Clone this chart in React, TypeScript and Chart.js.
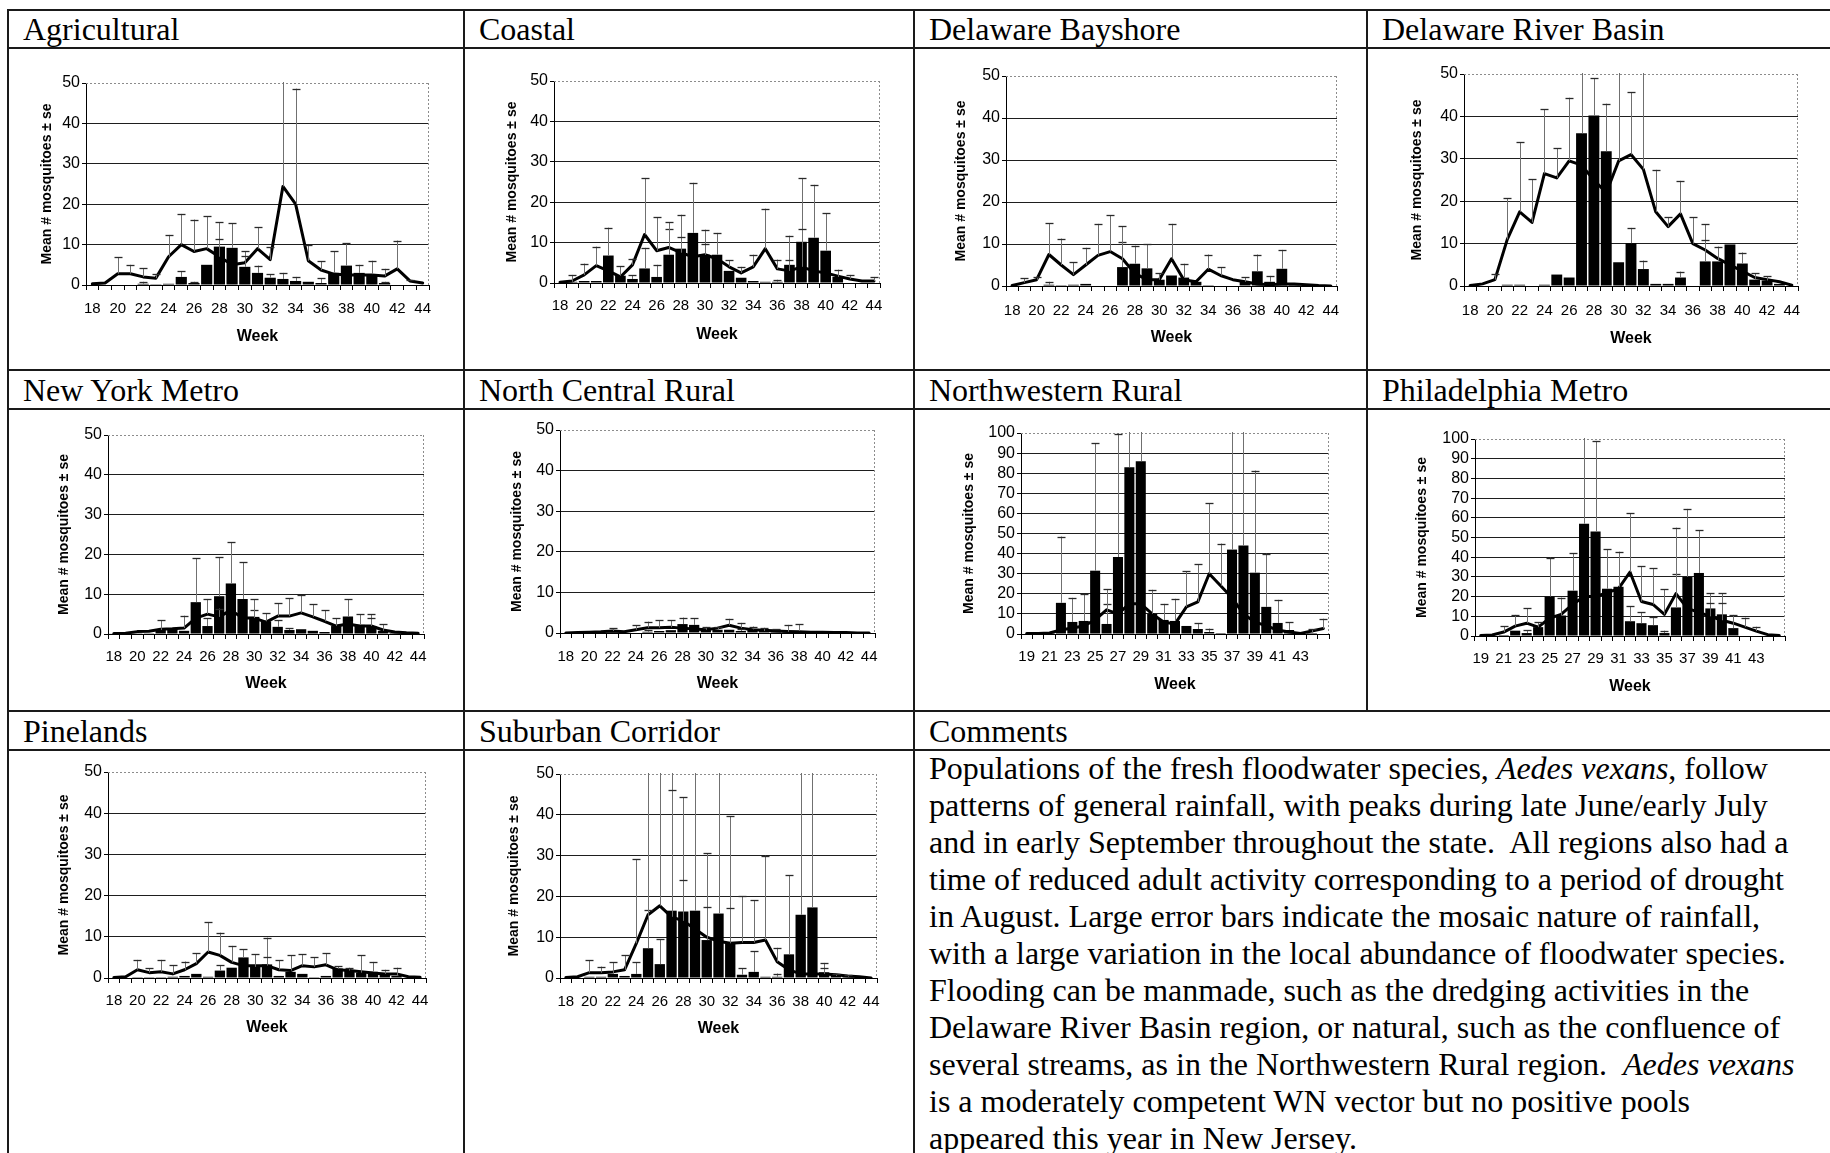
import React, { useEffect, useRef } from "react";
import { Chart, registerables } from "chart.js";

Chart.register(...registerables);
Chart.defaults.color = "#000";

// ---------- categories / tick labels ----------
const weeksA = ["18","19","20","21","22","23","24","25","26","27","28","29","30","31","32","33","34","35","36","37","38","39","40","41","42","43","44"];
const weeksB = ["19","20","21","22","23","24","25","26","27","28","29","30","31","32","33","34","35","36","37","38","39","40","41","42","43","44","45"];
const tickLabelsA = ["18","20","22","24","26","28","30","32","34","36","38","40","42","44"];
const tickLabelsB = ["19","21","23","25","27","29","31","33","35","37","39","41","43"];

// ---------- Agricultural ----------
const agBars = [0,0,0,0,0.3,0.2,0.3,2,0.5,5,9.5,9.2,4.5,3,1.8,1.5,1,0.8,0.5,3,4.8,3,2.7,0.5,0,0,0];
const agBarsSE = [0,0,0,0,0.5,0,0,1.4,0.3,0,6,6.1,3.8,1.8,0.9,1.5,1,0,1.2,5.3,5.5,2,3.3,0.3,0,0,0];
const agLine = [0.3,0.5,2.8,2.8,2,1.7,7,10,8.3,9,7,5,5.5,9,6.3,24.4,20,6,3.7,2.7,2.5,2.5,2.5,2.2,4,1,0.5];
const agLineSE = [0,0,4.1,2.2,2.2,1,5.4,7.6,7.9,8,4.4,0,1.8,5.3,3,30,28.6,3.8,2.2,0,0,0,0,1.8,7,0.3,0];

// ---------- Coastal ----------
const coBars = [0,0.3,0.5,0.5,6.8,1.8,1,3.6,1.5,7,8.5,12.4,7,7,3,1.3,0.5,0.3,0.3,4.5,10.2,11.2,8,1.5,0,0,0];
const coBarsSE = [0,1.7,0,0,6.9,2.3,0.9,5.1,3,6.4,8.4,12.4,6.2,5.4,0,0,0,0,0.5,7.2,15.8,13.1,9.3,1.8,0,0,0];
const coLine = [0.2,0.5,2,4.3,3,1.5,4.5,12,8,8.8,7.5,6.5,7,6,4,2.5,4,8.5,3.5,3,4,3,2.5,1.7,1,0.5,0.5];
const coLineSE = [0,0,2.8,4.7,0,0,1.5,14,8.3,6.3,3.9,0,2.7,0,1.6,1.5,3,9.9,2.3,2.8,9.4,0,0,0,1,0,1];

// ---------- Delaware Bayshore ----------
const dbBars = [0,0,0,0.3,0.2,0.3,0.5,0,0,4.5,5.3,4.2,1.5,2.5,2,1,0.2,0,0,1,3.5,1,4.1,0.7,0,0,0];
const dbBarsSE = [0,0,0,0.7,0,0,0,0,0,5.9,4.3,5.8,1.6,0,3.3,0,0,0,0,1.1,4,1.4,4.5,0,0,0,0];
const dbLine = [0.1,0.8,1.5,7.5,5,2.7,5,7.3,8.2,6.5,3,1.5,1.5,6.5,1.5,1,4,2.5,1.5,1,0.5,0.3,0.5,0.5,0.3,0.1,0];
const dbLineSE = [0,1,0.7,7.5,6.3,3,4.1,7.5,8.6,7.7,0,0,0,8.3,0,0,3.5,2,0,0,0,0,0,0,0,0,0];

// ---------- Delaware River Basin ----------
const drBars = [0,0,0,0.3,0.3,0,0.3,2.7,2,36,40.2,31.8,5.6,10.1,4,0.5,0.5,2,0,5.8,5.8,9.8,5.3,1.5,1.3,0.5,0];
const drBarsSE = [0,0,0,0,0,0,0,0,0,20,8.8,11.2,0,3.6,2,0,0,1.4,0,8.8,3.5,0,2.6,1.5,1,0,0];
const drLine = [0.1,0.5,1.5,11,17.5,15,26.5,25.5,29.5,28.5,25,22,29.5,31,27.5,17.5,14,17,10,8.5,6.5,5,3.5,2,1.5,1,0.2];
const drLineSE = [0,0,1.3,9.7,16.4,10.2,15.2,7,14.9,0,0,0,25,14.7,25,9.9,2.2,7.8,6.2,2.3,0,0,0,0,0,0,0];

// ---------- New York Metro ----------
const nyBars = [0.1,0.1,0.2,0.2,1,1.2,0.8,8,2,9.5,12.7,8.8,4.3,3.2,1.8,1,1.2,0.8,0.5,2,4.4,2.3,2,0.8,0.3,0.2,0];
const nyBarsSE = [0,0,0,0,2.5,0,0,11,2,9.8,10.3,9.2,1.7,2,1.6,0.5,0,0,0,1.9,4.3,2.6,2.9,1.6,0,0,0];
const nyLine = [0.1,0.2,0.6,0.7,1.2,1.3,1.5,4,5,4.3,6,4,4,3,4.5,4.5,5.3,4.3,3.2,2,2.5,2,2,1,0.5,0.3,0.2];
const nyLineSE = [0,0,0,0,0,0,3.1,0,3.8,2.1,0,0,4.7,0,3.2,4.5,4.5,3.2,2.8,0,0,0,2,0,0,0,0];

// ---------- North Central Rural ----------
const ncBars = [0,0,0,0,0.5,0,0,0.3,0.5,0.7,2.2,2,0.8,0.8,0.8,0.5,0.9,0.5,0.8,0.3,0.5,0,0,0,0,0,0];
const ncBarsSE = [0,0,0,0,0.7,0,0,0.5,0,0,1.6,1.6,0.7,0.8,0,0.5,0.7,0.8,0.1,1.7,1.6,0,0,0,0,0,0];
const ncLine = [0,0.1,0.2,0.3,0.5,0.3,0.8,1.3,1.3,1.4,1.2,1,0.8,1.2,1.9,1.2,0.8,0.7,0.5,0.4,0.3,0.2,0.2,0.1,0.1,0,0];
const ncLineSE = [0,0,0,0,0,0,1.1,1.5,1.8,1.7,0,0,0,0,1.6,1.3,0,0,0,0,0,0,0,0,0,0,0];

// ---------- Northwestern Rural ----------
const nwBars = [0,0.3,1,15.5,6,6.5,31.5,5,38.3,83,86,10,7,6.5,4,2.5,1,0.5,42,44,30.5,13.5,5.5,2,0,0.5,0];
const nwBarsSE = [0,0,0,33,12,13.4,63.5,10,61.4,30,30,12,8,11,0,3,1.7,0,60,60,50.8,26.5,11.5,3.8,0,2,0];
const nwLine = [0.2,0.3,0.5,2,3,4,7,12,10,15,15,10,6,5,13.5,16,30,24,18,10,6,4,2,1,0.3,1.5,2.7];
const nwLineSE = [0,0,0,0,0,0,0,10.4,0,0,0,0,0,0,17.7,18.8,35,21,0,0,0,0,0,0,0,0,4.9];

// ---------- Philadelphia Metro ----------
const phBars = [0,0,0.5,2.7,1.5,4.5,20,10.4,23,57,53,24,25,7.5,6.5,5.5,1.5,14.5,30,32,14,11,4,0,0,0,0];
const phBarsSE = [0,0,0,0,1.5,2.5,19.8,9.1,19,45,46,20,17.8,7.7,5.5,4,1.2,16.8,34.5,21.8,7.7,10.7,6.7,0,0,0,0];
const phLine = [0.2,0.5,2,5,6.5,4.5,9,11,16,20,20,22,24,32.5,17.5,16,11,21.5,14,12,10,8,6.5,4.5,2.5,0.7,0.2];
const phLineSE = [0,0,3,5.7,7.5,0,0,0,0,0,0,0,0,29.8,18,18.3,12.7,33.5,0,0,6.6,8.8,0,4.8,2.2,0,0];

// ---------- Pinelands ----------
const piBars = [0,0,0.2,0.2,0.2,0.3,0.5,1,0.3,1.8,2.5,5,2.7,3.3,0.5,1.5,1,0.2,0.5,2.3,1.8,1.3,1.5,1,0.5,0,0];
const piBarsSE = [0,0,0,0,0,0,0,0,0,1.3,0,2,3.1,6.5,0,0,0,0,0,0.6,0.7,4.2,2.4,1,2,0,0];
const piLine = [0.1,0.3,2,1.3,1.5,1,2,3.5,6.3,5.5,3.8,3,3,3,2,1.8,3,2.7,3.2,2,1.8,1.5,1.2,1,1,0.3,0.2];
const piLineSE = [0,0,2.4,1.1,2.9,2.1,2,2.5,7.3,5.5,4,0,0,2,2.3,3.7,2.8,2.3,2.8,0,0,0,0,0,0,0,0];

// ---------- Suburban Corridor ----------
const suBars = [0,0,0.3,0.3,1,0.5,1,7.3,3.4,16.5,16.3,16.5,9.3,15.8,8.7,0.8,1.5,0.3,0.3,5.8,15.5,17.3,1.4,0.5,0.3,0,0];
const suBarsSE = [0,0,0,0,2.8,0,2.9,9.4,6.1,40,28,40,21.3,40,31,1.6,5,0,0.8,19.4,40,40,2.3,0.5,0.4,0,0];
const suLine = [0.1,0.3,1.3,1.3,1.5,2,8.5,15.5,17.7,15,14,12,10,9,8.5,8.7,8.7,9.3,4,2,1,1,1,0.8,0.5,0.3,0];
const suLineSE = [0,0,3.1,1.5,0,3.6,20.6,40,40,31,10,0,7.5,0,8.7,11.4,10.4,20.7,3.4,0,0,0,1.5,0,0,0,0];

const SANS = '"Liberation Sans", Arial, Helvetica, sans-serif';
const SERIF = '"Liberation Serif", "Times New Roman", Times, serif';

type Panel = {
  title: string;
  weeks: string[];
  ticks: string[];
  bars: number[];
  barsSE: number[];
  line: number[];
  lineSE: number[];
  yMax: number;
  box: number[]; // L,T,R,B of the table cell
  plot: number[]; // left,right,top,bottom of the plot area
  xLabY: number;
  weekY: number;
  yTitleX: number;
};

const panels: Panel[] = [
  { title: "Agricultural", weeks: weeksA, ticks: tickLabelsA, bars: agBars, barsSE: agBarsSE, line: agLine, lineSE: agLineSE, yMax: 50,
    box: [8, 48, 464, 370], plot: [86, 429, 83, 285], xLabY: 308, weekY: 334, yTitleX: 47 },
  { title: "Coastal", weeks: weeksA, ticks: tickLabelsA, bars: coBars, barsSE: coBarsSE, line: coLine, lineSE: coLineSE, yMax: 50,
    box: [464, 48, 914, 370], plot: [554, 880, 81, 283], xLabY: 305, weekY: 332, yTitleX: 512 },
  { title: "Delaware Bayshore", weeks: weeksA, ticks: tickLabelsA, bars: dbBars, barsSE: dbBarsSE, line: dbLine, lineSE: dbLineSE, yMax: 50,
    box: [914, 48, 1367, 370], plot: [1006, 1337, 76, 286], xLabY: 310, weekY: 335, yTitleX: 961 },
  { title: "Delaware River Basin", weeks: weeksA, ticks: tickLabelsA, bars: drBars, barsSE: drBarsSE, line: drLine, lineSE: drLineSE, yMax: 50,
    box: [1367, 48, 1830, 370], plot: [1464, 1798, 74, 286], xLabY: 310, weekY: 336, yTitleX: 1417 },
  { title: "New York Metro", weeks: weeksA, ticks: tickLabelsA, bars: nyBars, barsSE: nyBarsSE, line: nyLine, lineSE: nyLineSE, yMax: 50,
    box: [8, 409, 464, 711], plot: [108, 424, 435, 634], xLabY: 656, weekY: 681, yTitleX: 64 },
  { title: "North Central Rural", weeks: weeksA, ticks: tickLabelsA, bars: ncBars, barsSE: ncBarsSE, line: ncLine, lineSE: ncLineSE, yMax: 50,
    box: [464, 409, 914, 711], plot: [560, 875, 430, 633], xLabY: 656, weekY: 681, yTitleX: 517 },
  { title: "Northwestern Rural", weeks: weeksB, ticks: tickLabelsB, bars: nwBars, barsSE: nwBarsSE, line: nwLine, lineSE: nwLineSE, yMax: 100,
    box: [914, 409, 1367, 711], plot: [1021, 1329, 433, 634], xLabY: 656, weekY: 682, yTitleX: 969 },
  { title: "Philadelphia Metro", weeks: weeksB, ticks: tickLabelsB, bars: phBars, barsSE: phBarsSE, line: phLine, lineSE: phLineSE, yMax: 100,
    box: [1367, 409, 1830, 711], plot: [1475, 1785, 439, 636], xLabY: 658, weekY: 684, yTitleX: 1422 },
  { title: "Pinelands", weeks: weeksA, ticks: tickLabelsA, bars: piBars, barsSE: piBarsSE, line: piLine, lineSE: piLineSE, yMax: 50,
    box: [8, 750, 464, 1153], plot: [108, 426, 772, 978], xLabY: 1000, weekY: 1025, yTitleX: 64 },
  { title: "Suburban Corridor", weeks: weeksA, ticks: tickLabelsA, bars: suBars, barsSE: suBarsSE, line: suLine, lineSE: suLineSE, yMax: 50,
    box: [464, 750, 914, 1153], plot: [560, 877, 774, 978], xLabY: 1001, weekY: 1026, yTitleX: 514 },
];

const framePlugin = {
  id: "frame",
  beforeDatasetsDraw(chart: any) {
    const { ctx, chartArea } = chart;
    const { left, top, right, bottom } = chartArea;
    ctx.save();
    ctx.strokeStyle = "#8c8c8c";
    ctx.lineWidth = 1;
    ctx.setLineDash([2, 2]);
    ctx.beginPath();
    ctx.moveTo(left, Math.round(top) + 0.5);
    ctx.lineTo(right, Math.round(top) + 0.5);
    ctx.moveTo(Math.round(right) - 0.5, top);
    ctx.lineTo(Math.round(right) - 0.5, bottom);
    ctx.stroke();
    ctx.restore();
  },
};

const errorBarPlugin = {
  id: "errorBars",
  afterDatasetsDraw(chart: any) {
    const { ctx, chartArea } = chart;
    const yScale = chart.scales.y;
    ctx.save();
    ctx.beginPath();
    ctx.rect(chartArea.left, chartArea.top - 1, chartArea.right - chartArea.left, chartArea.bottom - chartArea.top + 1);
    ctx.clip();
    chart.data.datasets.forEach((ds: any, di: number) => {
      const se: number[] = ds.se;
      if (!se) return;
      const meta = chart.getDatasetMeta(di);
      meta.data.forEach((el: any, i: number) => {
        const s = se[i];
        if (!s) return;
        const v = ds.data[i];
        const x = Math.round(el.x) + 0.5;
        const y0 = yScale.getPixelForValue(v);
        const y1 = yScale.getPixelForValue(v + s);
        ctx.strokeStyle = "#707070";
        ctx.lineWidth = 1;
        ctx.beginPath();
        ctx.moveTo(x, y0);
        ctx.lineTo(x, y1);
        ctx.stroke();
        if (y1 >= chartArea.top) {
          const yc = Math.round(y1) + 0.5;
          ctx.strokeStyle = "#2a2a2a";
          ctx.lineWidth = 1.3;
          ctx.beginPath();
          ctx.moveTo(x - 4, yc);
          ctx.lineTo(x + 4, yc);
          ctx.stroke();
        }
      });
    });
    ctx.restore();
  },
};

function PanelChart({ p }: { p: Panel }) {
  const ref = useRef<HTMLCanvasElement>(null);
  const [L, T, R, B] = p.box;
  const W = R - L;
  const H = B - T;
  useEffect(() => {
    const [pl, pr, pt, pb] = p.plot;
    const tickLen = 5;
    const xTickFont = 15;
    const yTickFont = 16;
    const chart = new Chart(ref.current as HTMLCanvasElement, {
      type: "bar",
      data: {
        labels: p.weeks,
        datasets: [
          {
            type: "bar",
            data: p.bars,
            se: p.barsSE,
            backgroundColor: "#000",
            borderWidth: 0,
            barPercentage: 0.88,
            categoryPercentage: 1,
            order: 0,
          } as any,
          {
            type: "line",
            data: p.line,
            se: p.lineSE,
            borderColor: "#000",
            borderWidth: 3,
            borderJoinStyle: "round",
            borderCapStyle: "round",
            pointRadius: 0,
            tension: 0,
            fill: false,
            order: 1,
          } as any,
        ],
      },
      options: {
        responsive: false,
        animation: false,
        events: [],
        layout: { padding: { left: 0, top: pt - T, right: R - pr, bottom: 0 } },
        plugins: { legend: { display: false }, tooltip: { enabled: false } },
        scales: {
          x: {
            type: "category",
            offset: true,
            grid: { offset: true, drawOnChartArea: false, drawTicks: true, tickLength: tickLen, color: "#000", lineWidth: 1 },
            border: { display: true, color: "#000", width: 1 },
            ticks: {
              autoSkip: false,
              maxRotation: 0,
              minRotation: 0,
              padding: p.xLabY + 1 - pb - tickLen - xTickFont * 0.6,
              font: { family: SANS, size: xTickFont },
              color: "#000",
              callback: function (this: any, val: any) {
                const lab = this.getLabelForValue(val);
                return p.ticks.includes(lab) ? lab : "";
              },
            },
            title: {
              display: true,
              text: "Week",
              font: { family: SANS, size: 16, weight: "bold" },
              color: "#000",
              padding: { top: 0, bottom: B - p.weekY - 3 - 16 * 0.6 },
            },
            afterFit: (s: any) => {
              s.height = B - pb;
            },
          },
          y: {
            type: "linear",
            min: 0,
            max: p.yMax,
            ticks: {
              stepSize: 10,
              autoSkip: false,
              padding: 2,
              font: { family: SANS, size: yTickFont },
              color: "#000",
            },
            grid: {
              tickLength: 4,
              lineWidth: 1,
              tickColor: "#000",
              color: (c: any) => (c.tick && c.tick.value >= p.yMax ? "rgba(0,0,0,0)" : "#1e1e1e"),
            },
            border: { display: true, color: "#000", width: 1 },
            title: {
              display: true,
              text: "Mean # mosquitoes ± se",
              font: { family: SANS, size: 14, weight: "bold" },
              color: "#000",
              padding: { top: p.yTitleX - L - 14 * 0.6, bottom: 0 },
            },
            afterFit: (s: any) => {
              s.width = pl - L;
            },
          },
        },
      } as any,
      plugins: [framePlugin, errorBarPlugin],
    });
    return () => chart.destroy();
  }, []);
  return (
    <canvas
      ref={ref}
      width={W}
      height={H}
      style={{ position: "absolute", left: L, top: T, width: W, height: H, display: "block" }}
    />
  );
}

const headerRows = [
  { top: 10, bottom: 48, cells: [{ x: 8, t: "Agricultural" }, { x: 464, t: "Coastal" }, { x: 914, t: "Delaware Bayshore" }, { x: 1367, t: "Delaware River Basin" }] },
  { top: 370, bottom: 409, cells: [{ x: 8, t: "New York Metro" }, { x: 464, t: "North Central Rural" }, { x: 914, t: "Northwestern Rural" }, { x: 1367, t: "Philadelphia Metro" }] },
  { top: 711, bottom: 750, cells: [{ x: 8, t: "Pinelands" }, { x: 464, t: "Suburban Corridor" }, { x: 914, t: "Comments" }] },
];

const hLines = [10, 48, 370, 409, 711, 750];
const vLines = [
  { x: 8, y0: 10, y1: 1153 },
  { x: 464, y0: 10, y1: 1153 },
  { x: 914, y0: 10, y1: 1153 },
  { x: 1367, y0: 10, y1: 711 },
];

const I = ({ children }: { children: React.ReactNode }) => <i>{children}</i>;

const commentLines: React.ReactNode[] = [
  <>Populations of the fresh floodwater species, <I>Aedes vexans</I>, follow</>,
  <>patterns of general rainfall, with peaks during late June/early July</>,
  <>and in early September throughout the state.  All regions also had a</>,
  <>time of reduced adult activity corresponding to a period of drought</>,
  <>in August. Large error bars indicate the mosaic nature of rainfall,</>,
  <>with a large variation in the local abundance of floodwater species.</>,
  <>Flooding can be manmade, such as the dredging activities in the</>,
  <>Delaware River Basin region, or natural, such as the confluence of</>,
  <>several streams, as in the Northwestern Rural region.  <I>Aedes vexans</I></>,
  <>is a moderately competent WN vector but no positive pools</>,
  <>appeared this year in New Jersey.</>,
];

export default function App() {
  return (
    <div
      style={{
        position: "absolute",
        left: 0,
        top: 0,
        width: 1830,
        height: 1153,
        overflow: "hidden",
        background: "#fff",
        fontFamily: SERIF,
        color: "#000",
      }}
    >
      {panels.map((p) => (
        <PanelChart key={p.title} p={p} />
      ))}
      {headerRows.map((r, ri) =>
        r.cells.map((c) => (
          <div
            key={ri + c.t}
            style={{
              position: "absolute",
              left: c.x + 15,
              top: r.top + 1,
              height: r.bottom - r.top - 1,
              lineHeight: `${r.bottom - r.top - 1}px`,
              fontSize: 32,
              whiteSpace: "nowrap",
            }}
          >
            {c.t}
          </div>
        ))
      )}
      <div style={{ position: "absolute", left: 914 + 15, top: 750, fontSize: 32 }}>
        {commentLines.map((ln, i) => (
          <div key={i} style={{ height: 37, lineHeight: "37px", whiteSpace: "pre" }}>
            {ln}
          </div>
        ))}
      </div>
      {hLines.map((y) => (
        <div key={"h" + y} style={{ position: "absolute", left: 7, top: y - 1, width: 1830, height: 2, background: "#1a1a1a" }} />
      ))}
      {vLines.map((v) => (
        <div key={"v" + v.x} style={{ position: "absolute", left: v.x - 1, top: v.y0 - 1, width: 2, height: v.y1 - v.y0 + 1, background: "#1a1a1a" }} />
      ))}
    </div>
  );
}
